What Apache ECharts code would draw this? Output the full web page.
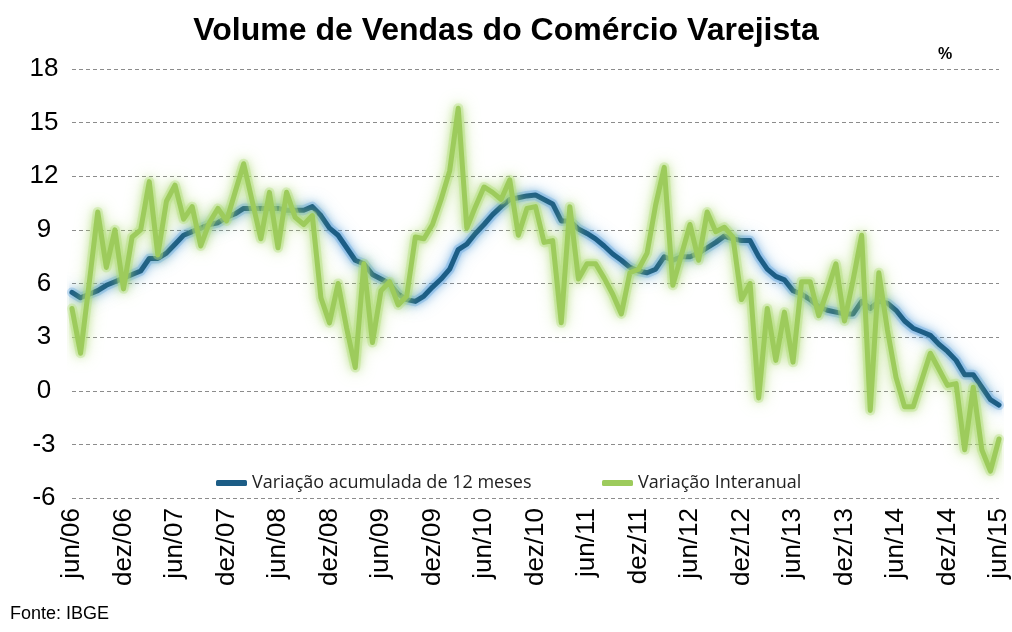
<!DOCTYPE html>
<html>
<head>
<meta charset="utf-8">
<script src="https://cdn.jsdelivr.net/npm/echarts@6/dist/echarts.min.js"></script>
<style>html,body{margin:0;padding:0;background:#fff;}#c{width:1012px;height:632px;}</style>
</head>
<body>
<div id="c"></div>
<script>
var monthNames = ['jan','fev','mar','abr','mai','jun','jul','ago','set','out','nov','dez'];
var startYear = 2006, startMonth = 5, nMonths = 109;
var categories = [];
for (var k = 0; k < nMonths; k++) {
  var m = (startMonth + k) % 12;
  var y = startYear + Math.floor((startMonth + k) / 12);
  categories.push(monthNames[m] + '/' + String(y).slice(2));
}

var acumulada12m = [
  5.5,5.2,5.4,5.6,5.9,6.1,6.3,6.5,6.7,7.4,7.4,7.7,8.2,8.7,8.9,9.1,9.3,9.4,9.7,9.9,
  10.2,10.2,10.2,10.2,10.2,10.1,10.1,10.1,10.3,9.8,9.1,8.7,8.0,7.3,7.1,6.5,6.25,6.0,5.4,5.1,
  5.0,5.3,5.8,6.25,6.8,7.9,8.2,8.8,9.3,9.85,10.3,10.7,10.8,10.9,10.95,10.7,10.45,9.5,9.5,9.05,
  8.8,8.5,8.1,7.65,7.3,6.9,6.7,6.6,6.8,7.5,7.3,7.5,7.5,7.7,8.0,8.3,8.65,8.5,8.4,8.4,
  7.5,6.8,6.4,6.2,5.6,5.4,5.1,4.7,4.5,4.4,4.3,4.3,5.0,4.6,5.0,4.9,4.5,3.9,3.5,3.3,
  3.1,2.6,2.2,1.7,0.9,0.9,0.2,-0.5,-0.8
];
var interanual = [
  4.6,2.1,6.0,10.0,6.9,9.0,5.7,8.6,9.0,11.7,7.6,10.6,11.5,9.6,10.3,8.1,9.4,10.2,9.5,11.1,
  12.7,10.6,8.5,11.1,8.0,11.1,9.7,9.3,9.8,5.2,3.8,6.0,3.5,1.3,7.1,2.7,5.6,6.1,4.8,5.3,
  8.6,8.5,9.3,10.7,12.3,15.8,9.1,10.3,11.4,11.1,10.7,11.8,8.7,10.2,10.3,8.3,8.4,3.8,10.3,6.25,
  7.1,7.1,6.3,5.4,4.3,6.6,6.8,7.7,10.4,12.5,5.9,7.6,9.3,7.3,10.0,8.9,9.15,8.6,5.1,6.0,
  -0.4,4.6,1.7,4.4,1.6,6.1,6.1,4.2,5.6,7.1,3.9,6.2,8.7,-1.1,6.6,3.4,0.75,-0.9,-0.9,0.6,
  2.1,1.2,0.3,0.4,-3.3,0.2,-3.3,-4.5,-2.7
];
var yTicks = {min: -6, max: 18, interval: 3};
var seriesNames = ['Variação acumulada de 12 meses', 'Variação Interanual'];

function glowSeries(data, color, shadow, z) {
  return {
    name: '_glow' + z, type: 'line', data: data, symbol: 'none', silent: true,
    lineStyle: {width: 10, color: color, shadowBlur: 16, shadowColor: shadow, cap: 'round', join: 'round'},
    z: z
  };
}

var chart = echarts.init(document.getElementById('c'), null, {renderer: 'canvas'});
chart.setOption({
  backgroundColor: '#ffffff',
  animation: false,
  title: {
    text: 'Volume de Vendas do Comércio Varejista',
    left: 'center', top: 10,
    textStyle: {fontFamily: 'Liberation Sans, Arial', fontWeight: 'bold', fontSize: 32, color: '#000'}
  },
  graphic: [
    {type: 'text', left: 938, top: 47, style: {text: '%', font: 'bold 16px "Liberation Sans", Arial', fill: '#000'}},
    {type: 'text', left: 10, top: 605, style: {text: 'Fonte: IBGE', font: '18px "Liberation Sans", Arial', fill: '#000'}}
  ],
  legend: [
    {
      data: [seriesNames[0]], left: 211, top: 469, itemWidth: 31, itemHeight: 6, itemGap: 4,
      icon: 'roundRect',
      textStyle: {fontFamily: 'Open Sans, Noto Sans', fontSize: 18, color: '#222'}
    },
    {
      data: [seriesNames[1]], left: 597, top: 469, itemWidth: 31, itemHeight: 6, itemGap: 4,
      icon: 'roundRect',
      textStyle: {fontFamily: 'Open Sans, Noto Sans', fontSize: 18, color: '#222'}
    }
  ],
  grid: {left: 72, right: 12, top: 69, bottom: 134, containLabel: false},
  xAxis: {
    type: 'category', data: categories, boundaryGap: false,
    axisLine: {show: false}, axisTick: {show: false},
    axisLabel: {interval: 5, rotate: 90, margin: 10, fontFamily: 'Liberation Sans, Arial', fontSize: 26, color: '#000'},
    splitLine: {show: false}
  },
  yAxis: {
    type: 'value', min: yTicks.min, max: yTicks.max, interval: yTicks.interval,
    axisLine: {show: false}, axisTick: {show: false},
    axisLabel: {margin: 28, align: 'center', fontFamily: 'Liberation Sans, Arial', fontSize: 26, color: '#000'},
    splitLine: {show: true, lineStyle: {color: '#8c8c8c', type: [4, 3], width: 1}}
  },
  series: [
    glowSeries(acumulada12m, 'rgba(110,170,225,0.35)', 'rgba(80,155,215,1)', 1),
    {
      name: seriesNames[0], type: 'line', data: acumulada12m, symbol: 'none', smooth: false,
      color: '#1c5d86',
      lineStyle: {width: 5, color: '#1c5d86', shadowBlur: 8, shadowColor: 'rgba(70,150,215,0.9)', cap: 'round', join: 'round'},
      z: 2
    },
    glowSeries(interanual, 'rgba(185,225,135,0.4)', 'rgba(170,215,105,1)', 3),
    {
      name: seriesNames[1], type: 'line', data: interanual, symbol: 'none', smooth: false,
      color: '#9dcb5c',
      lineStyle: {width: 5, color: '#9dcb5c', shadowBlur: 8, shadowColor: 'rgba(165,215,100,0.9)', cap: 'round', join: 'round'},
      z: 4
    }
  ]
});
</script>
</body>
</html>
